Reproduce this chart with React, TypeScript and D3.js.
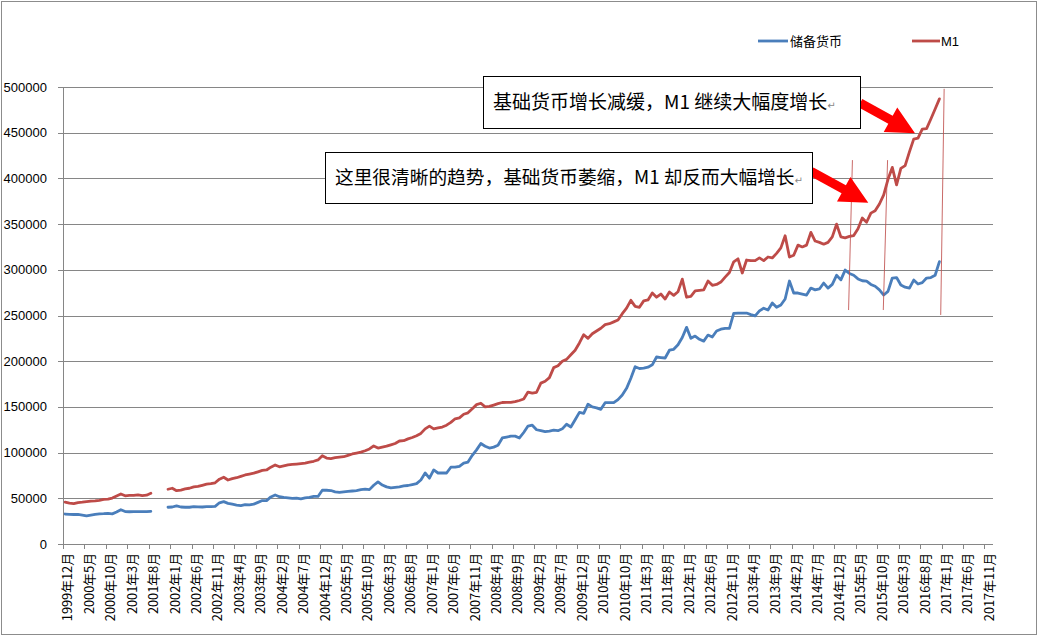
import React from 'react';
import * as d3 from 'd3';

const W = 1040;
const H = 638;

// ---------- DATA ----------
// monthly categories 1999年12月 .. 2017年12月
const categories: string[] = [];
for (let i = 0; i < 217; i++) {
  const t = 1999 * 12 + 11 + i;
  categories.push(`${Math.floor(t / 12)}年${(t % 12) + 1}月`);
}

const tickLabels = [
  '1999年12月', '2000年5月', '2000年10月', '2001年3月', '2001年8月', '2002年1月', '2002年6月', '2002年11月',
  '2003年4月', '2003年9月', '2004年2月', '2004年7月', '2004年12月', '2005年5月', '2005年10月', '2006年3月',
  '2006年8月', '2007年1月', '2007年6月', '2007年11月', '2008年4月', '2008年9月', '2009年2月', '2009年7月',
  '2009年12月', '2010年5月', '2010年10月', '2011年3月', '2011年8月', '2012年1月', '2012年6月', '2012年11月',
  '2013年4月', '2013年9月', '2014年2月', '2014年7月', '2014年12月', '2015年5月', '2015年10月', '2016年3月',
  '2016年8月', '2017年1月', '2017年6月', '2017年11月',
];

const yTicks = [0, 50000, 100000, 150000, 200000, 250000, 300000, 350000, 400000, 450000, 500000];

// 储备货币 (1999/12 .. 2016/12)
const reserveMoney: (number | null)[] = [
  32800,
  32400, 32300, 32300, 31700, 30800, 31600, 32400, 33000, 33200, 33600, 33000, 35000,
  37500, 35500, 35300, 35400, 35400, 35400, 35500, 35800, null, null, null, 40200,
  40500, 41800, 40500, 40200, 40200, 40800, 40600, 40500, 41000, 41000, 41200, 45100,
  46300, 44500, 43500, 42500, 42000, 43000, 42800, 43600, 45500, 47500, 47500, 51500,
  53600, 51700, 51000, 50500, 50000, 50300, 49500, 50500, 51000, 52000, 52000, 58900,
  58800, 58500, 57000, 56500, 57000, 57500, 58000, 58500, 59500, 60000, 59500, 64300,
  68000, 64500, 62500, 61500, 62000, 62500, 63500, 64000, 65000, 66000, 70000, 77700,
  72000, 81000, 77700, 77700, 77700, 84000, 84000, 85000, 88600, 89700, 97000, 103000,
  110000, 107000, 105000, 106000, 108000, 116000, 117000, 118000, 118000, 116000, 122000, 129000,
  130000, 125000, 124000, 123000, 123500, 124500, 124000, 126000, 131000, 128000, 136000, 144000,
  143000, 153000, 150000, 149000, 147300, 154600, 154600, 154600, 158000, 163000, 170300, 181300,
  194000, 192000, 192500, 193500, 196000, 204600, 204000, 203500, 212000, 213000, 218000, 226000,
  237000, 225000, 227500, 224000, 222000, 228600, 226500, 233000, 235000, 236000, 236000, 252300,
  252700, 252700, 252700, 251000, 249500, 255000, 258000, 256000, 263700, 259000, 261500, 268000,
  287700, 274600, 274600, 273500, 272400, 280000, 278000, 279000, 285500, 280000, 284000, 294000,
  289000, 299700, 296000, 294000, 290000, 288000, 287700, 284000, 282000, 278000, 272400, 276400,
  291000, 291500, 283400, 281000, 280000, 288800, 284500, 286000, 291000, 291500, 294000, 309000,
];

// M1 (1999/12 .. 2016/12)
const m1: (number | null)[] = [
  45800,
  44700, 44200, 45300, 45700, 46300, 47000, 47100, 47800, 48800, 49100, 50300, 52500,
  54800, 52700, 53200, 53200, 53800, 53000, 53400, 55500, null, null, null, 59900,
  61000, 58300, 59000, 60200, 61000, 62400, 63000, 64200, 65500, 66000, 67000, 70900,
  73000, 70000, 71500, 72500, 74000, 75500, 76500, 77500, 79000, 80500, 81000, 84100,
  86500, 84500, 85500, 86500, 87000, 87500, 88000, 88500, 89500, 90500, 92000, 96500,
  94000, 93500, 94500, 95000, 95500, 97000, 98500, 99500, 100500, 102000, 104000, 107300,
  105000, 106000, 107000, 108500, 110000, 112700, 113000, 115000, 116500, 118500, 121000, 126000,
  129000, 126000, 127000, 128000, 130000, 133000, 137000, 138000, 142000, 143500, 148000, 152500,
  154000, 150000, 150500, 152000, 153500, 154800, 155000, 155000, 155700, 157000, 158600, 166200,
  165000, 166000, 176000, 178000, 182000, 193000, 195000, 200000, 202000, 207000, 212000, 220000,
  229000, 225000, 230000, 233000, 236000, 240000, 241000, 243000, 245000, 252000, 258000, 266600,
  260000, 259000, 266000, 267000, 274600, 270000, 273500, 268000, 275700, 272000, 276000, 289800,
  270000, 271000, 277000, 277500, 278000, 287700, 283000, 284000, 286600, 292000, 297000, 308700,
  312000, 296500, 310700, 310000, 310000, 313000, 310000, 314000, 313000, 318000, 324000, 337300,
  314000, 316000, 327000, 325000, 327000, 341000, 331500, 330000, 328000, 330000, 336000, 350000,
  336000, 335000, 336500, 337500, 345000, 356600, 352000, 362000, 364500, 372000, 382000, 399000,
  412000, 393000, 411000, 414000, 429000, 443000, 444000, 454000, 454500, 465000, 476000, 487000,
];

const seriesNames = ['储备货币', 'M1'];

// annotation marks: [category index (fractional), value]
const guideLines: [number, number, number, number][] = [
  [184.2, 420000, 183.3, 256000],
  [192.4, 420000, 191.4, 256000],
  [205.6, 498000, 204.8, 250600],
];
const arrows: [number, number, number, number][] = [
  [186.0, 482500, 198.8, 449300],
  [174.6, 407500, 187.9, 373400],
];
const notes = ['基础货币增长减缓，M1 继续大幅度增长', '这里很清晰的趋势，基础货币萎缩，M1 却反而大幅增长'];

// ---------- LAYOUT ----------
const plot = { left: 63, right: 993, top: 87, bottom: 544 };
const BLUE = '#4a7ebb';
const RED = '#be4b48';
const GRID = '#868686';

function arrowPath(sx: number, sy: number, tx: number, ty: number) {
  const dx = tx - sx, dy = ty - sy;
  const len = Math.hypot(dx, dy);
  const ux = dx / len, uy = dy / len;
  const nx = -uy, ny = ux;
  const sw = 4.5, hw = 14, hl = 28;
  const bx = tx - ux * hl, by = ty - uy * hl;
  const pts = [
    [sx + nx * sw, sy + ny * sw],
    [bx + nx * sw, by + ny * sw],
    [bx + nx * hw, by + ny * hw],
    [tx, ty],
    [bx - nx * hw, by - ny * hw],
    [bx - nx * sw, by - ny * sw],
    [sx - nx * sw, sy - ny * sw],
  ];
  return 'M' + pts.map((p) => p.join(',')).join('L') + 'Z';
}

export default function App() {
  const x = d3.scaleBand<string>().domain(categories).range([plot.left, plot.right]).paddingInner(0).paddingOuter(0);
  const xi = d3.scaleLinear().domain([0, categories.length]).range([plot.left, plot.right]);
  const y = d3.scaleLinear().domain([0, 500000]).range([plot.bottom, plot.top]);
  const bw = x.bandwidth();

  const line = d3
    .line<number | null>()
    .defined((d) => d != null)
    .x((_, i) => (x(categories[i]) as number) + bw / 2)
    .y((d) => y(d as number));

  const cjk = '"Noto Sans CJK SC", "Noto Sans", sans-serif';
  const latin = '"Liberation Sans", Arial, sans-serif';

  return (
    <svg width={W} height={H} style={{ position: 'absolute', left: 0, top: 0, background: '#fff' }}>
      <rect x={0} y={0} width={W} height={H} fill="#fff" />
      <rect x={1.5} y={1.5} width={1035} height={633} fill="none" stroke="#8c8c8c" strokeWidth={1} />

      {/* gridlines */}
      {yTicks.map((t) => (
        <line key={t} x1={plot.left} x2={plot.right} y1={Math.round(y(t)) + 0.5} y2={Math.round(y(t)) + 0.5} stroke={GRID} strokeWidth={1} />
      ))}
      {/* y axis */}
      <line x1={plot.left + 0.5} x2={plot.left + 0.5} y1={plot.top} y2={plot.bottom} stroke={GRID} />
      {yTicks.map((t) => (
        <g key={'yt' + t}>
          <line x1={plot.left - 5} x2={plot.left} y1={Math.round(y(t)) + 0.5} y2={Math.round(y(t)) + 0.5} stroke={GRID} />
          <text x={47} y={y(t)} dy="0.35em" textAnchor="end" fontFamily={latin} fontSize={13} fill="#000">
            {t}
          </text>
        </g>
      ))}

      {/* x ticks and labels */}
      {tickLabels.map((lab) => {
        const tx = Math.round(x(lab) as number) + 0.5;
        return (
          <g key={lab}>
            <line x1={tx} x2={tx} y1={plot.bottom} y2={plot.bottom + 5} stroke={GRID} />
            <text
              transform={`translate(${(x(lab) as number) + 5},${553}) rotate(-90)`}
              dy="0.35em"
              textAnchor="end"
              fontFamily={cjk}
              fontSize={12.8}
              fill="#000"
            >
              {lab}
            </text>
          </g>
        );
      })}

      {/* series */}
      <path d={line(reserveMoney) || ''} fill="none" stroke={BLUE} strokeWidth={2.8} strokeLinejoin="round" strokeLinecap="round" />
      <path d={line(m1) || ''} fill="none" stroke={RED} strokeWidth={2.8} strokeLinejoin="round" strokeLinecap="round" />

      {/* guide lines */}
      {guideLines.map(([i1, v1, i2, v2], k) => (
        <line key={'g' + k} x1={xi(i1)} y1={y(v1)} x2={xi(i2)} y2={y(v2)} stroke="#c0504d" strokeWidth={1} strokeOpacity={0.85} />
      ))}

      {/* arrows */}
      {arrows.map(([i1, v1, i2, v2], k) => (
        <path key={'a' + k} d={arrowPath(xi(i1), y(v1), xi(i2), y(v2))} fill="#ff0000" />
      ))}

      {/* note boxes */}
      <rect x={483.5} y={76.5} width={377} height={52} fill="#fff" stroke="#000" strokeWidth={1} />
      <text x={493} y={102} dy="0.35em" fontFamily={cjk} fontSize={19} fill="#000">
        {notes[0]}
        <tspan fontFamily='"DejaVu Sans", sans-serif' fontSize={10} fill="#888">↵</tspan>
      </text>
      <rect x={325.5} y={152.5} width={487} height={51} fill="#fff" stroke="#000" strokeWidth={1} />
      <text x={335} y={177} dy="0.35em" fontFamily={cjk} fontSize={18.7} fill="#000">
        {notes[1]}
        <tspan fontFamily='"DejaVu Sans", sans-serif' fontSize={10} fill="#888">↵</tspan>
      </text>

      {/* legend */}
      <line x1={758} x2={788} y1={41} y2={41} stroke={BLUE} strokeWidth={2.8} />
      <text x={790} y={41} dy="0.35em" fontFamily={cjk} fontSize={13} fill="#000">
        {seriesNames[0]}
      </text>
      <line x1={912} x2={940} y1={41} y2={41} stroke={RED} strokeWidth={2.8} />
      <text x={941} y={41} dy="0.35em" fontFamily={latin} fontSize={13} fill="#000">
        {seriesNames[1]}
      </text>
    </svg>
  );
}
